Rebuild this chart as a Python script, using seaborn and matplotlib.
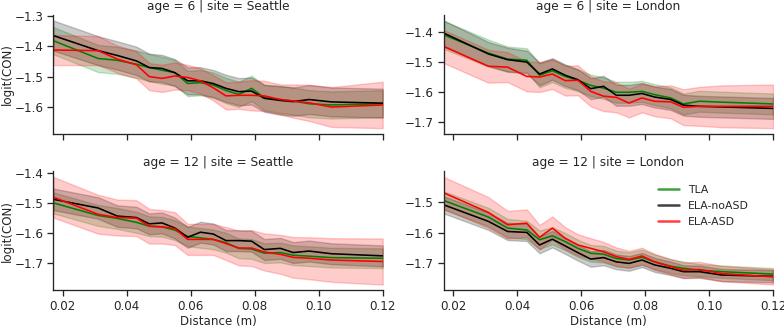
import numpy as np
import pandas as pd
import matplotlib
matplotlib.use("Agg")
import matplotlib.pyplot as plt
import seaborn as sns

# distance bins (m)
distance = [0.017, 0.031, 0.037, 0.043, 0.047, 0.051, 0.055, 0.059, 0.063, 0.067,
            0.071, 0.075, 0.079, 0.083, 0.088, 0.092, 0.097, 0.104, 0.12]

groups = ["TLA", "ELA-noASD", "ELA-ASD"]
ages = [6, 12]
sites = ["Seattle", "London"]

# mean logit(CON) per panel and group
mean_6_seattle_tla = [-1.381, -1.440, -1.446, -1.459, -1.470, -1.479, -1.487, -1.523, -1.520, -1.528,
                      -1.546, -1.559, -1.539, -1.570, -1.576, -1.581, -1.590, -1.594, -1.590]
mean_6_seattle_noasd = [-1.364, -1.414, -1.430, -1.448, -1.470, -1.473, -1.487, -1.514, -1.514, -1.523,
                        -1.539, -1.550, -1.548, -1.572, -1.579, -1.583, -1.576, -1.584, -1.588]
mean_6_seattle_asd = [-1.412, -1.414, -1.442, -1.461, -1.500, -1.506, -1.498, -1.503, -1.514, -1.537,
                      -1.564, -1.562, -1.562, -1.564, -1.576, -1.581, -1.587, -1.601, -1.594]

mean_6_london_tla = [-1.408, -1.469, -1.489, -1.493, -1.543, -1.528, -1.547, -1.560, -1.577, -1.586,
                     -1.600, -1.600, -1.597, -1.608, -1.619, -1.639, -1.630, -1.633, -1.639]
mean_6_london_noasd = [-1.402, -1.472, -1.491, -1.499, -1.539, -1.522, -1.543, -1.558, -1.588, -1.580,
                       -1.610, -1.610, -1.604, -1.616, -1.624, -1.643, -1.647, -1.649, -1.654]
mean_6_london_asd = [-1.447, -1.513, -1.516, -1.547, -1.549, -1.539, -1.561, -1.560, -1.597, -1.613,
                     -1.617, -1.636, -1.619, -1.630, -1.632, -1.650, -1.647, -1.647, -1.647]

mean_12_seattle_tla = [-1.499, -1.541, -1.551, -1.564, -1.577, -1.579, -1.590, -1.611, -1.616, -1.621,
                       -1.632, -1.651, -1.653, -1.667, -1.665, -1.674, -1.677, -1.682, -1.684]
mean_12_seattle_noasd = [-1.487, -1.516, -1.543, -1.548, -1.569, -1.566, -1.583, -1.614, -1.597, -1.603,
                         -1.625, -1.625, -1.627, -1.655, -1.651, -1.665, -1.660, -1.669, -1.676]
mean_12_seattle_asd = [-1.480, -1.537, -1.548, -1.550, -1.577, -1.579, -1.585, -1.621, -1.621, -1.621,
                       -1.635, -1.650, -1.650, -1.663, -1.671, -1.681, -1.684, -1.690, -1.695]

mean_12_london_tla = [-1.495, -1.549, -1.585, -1.591, -1.623, -1.610, -1.629, -1.651, -1.667, -1.670,
                      -1.684, -1.689, -1.680, -1.695, -1.709, -1.716, -1.722, -1.727, -1.735]
mean_12_london_noasd = [-1.509, -1.563, -1.596, -1.599, -1.640, -1.621, -1.643, -1.665, -1.686, -1.681,
                        -1.695, -1.700, -1.689, -1.705, -1.716, -1.727, -1.727, -1.738, -1.742]
mean_12_london_asd = [-1.470, -1.534, -1.574, -1.569, -1.615, -1.585, -1.618, -1.640, -1.651, -1.662,
                      -1.678, -1.687, -1.676, -1.695, -1.711, -1.722, -1.720, -1.733, -1.744]

# half width of the confidence band per panel and group
ci_6_seattle_tla = [0.045, 0.045, 0.045, 0.045, 0.045, 0.045, 0.042, 0.042, 0.042, 0.042,
                    0.042, 0.042, 0.042, 0.042, 0.045, 0.045, 0.045, 0.045, 0.045]
ci_6_seattle_noasd = [0.05, 0.048, 0.047, 0.047, 0.046, 0.045, 0.045, 0.045, 0.045, 0.045,
                      0.045, 0.045, 0.045, 0.045, 0.047, 0.047, 0.048, 0.048, 0.048]
ci_6_seattle_asd = [0.05, 0.048, 0.045, 0.045, 0.045, 0.045, 0.045, 0.042, 0.042, 0.042,
                    0.045, 0.045, 0.05, 0.05, 0.05, 0.055, 0.06, 0.066, 0.077]

ci_6_london_tla = [0.047, 0.045, 0.042, 0.04, 0.04, 0.038, 0.038, 0.036, 0.036, 0.036,
                   0.035, 0.035, 0.035, 0.035, 0.035, 0.035, 0.035, 0.035, 0.035]
ci_6_london_noasd = [0.042, 0.04, 0.04, 0.038, 0.038, 0.036, 0.036, 0.035, 0.035, 0.035,
                     0.035, 0.035, 0.035, 0.035, 0.035, 0.035, 0.035, 0.035, 0.035]
ci_6_london_asd = [0.055, 0.055, 0.05, 0.05, 0.05, 0.05, 0.05, 0.05, 0.05, 0.05,
                   0.05, 0.048, 0.048, 0.05, 0.055, 0.06, 0.065, 0.07, 0.073]

ci_12_seattle_tla = [0.035, 0.035, 0.035, 0.035, 0.033, 0.033, 0.033, 0.033, 0.033, 0.033,
                     0.033, 0.033, 0.033, 0.033, 0.033, 0.033, 0.033, 0.033, 0.033]
ci_12_seattle_noasd = [0.036, 0.036, 0.036, 0.036, 0.035, 0.035, 0.035, 0.035, 0.035, 0.035,
                       0.035, 0.035, 0.035, 0.035, 0.035, 0.035, 0.035, 0.035, 0.035]
ci_12_seattle_asd = [0.068, 0.065, 0.06, 0.06, 0.058, 0.056, 0.055, 0.052, 0.052, 0.052,
                     0.055, 0.058, 0.06, 0.062, 0.065, 0.068, 0.07, 0.073, 0.077]

ci_12_london_tla = [0.03, 0.03, 0.03, 0.03, 0.03, 0.028, 0.028, 0.028, 0.027, 0.027,
                    0.026, 0.025, 0.025, 0.024, 0.023, 0.022, 0.02, 0.02, 0.02]
ci_12_london_noasd = [0.028, 0.028, 0.028, 0.028, 0.027, 0.027, 0.026, 0.026, 0.025, 0.025,
                      0.024, 0.024, 0.023, 0.023, 0.022, 0.021, 0.02, 0.02, 0.02]
ci_12_london_asd = [0.052, 0.05, 0.045, 0.045, 0.04, 0.038, 0.036, 0.035, 0.033, 0.032,
                    0.03, 0.028, 0.027, 0.026, 0.025, 0.025, 0.025, 0.025, 0.025]

means = {
    (6, "Seattle"): [mean_6_seattle_tla, mean_6_seattle_noasd, mean_6_seattle_asd],
    (6, "London"): [mean_6_london_tla, mean_6_london_noasd, mean_6_london_asd],
    (12, "Seattle"): [mean_12_seattle_tla, mean_12_seattle_noasd, mean_12_seattle_asd],
    (12, "London"): [mean_12_london_tla, mean_12_london_noasd, mean_12_london_asd],
}
cis = {
    (6, "Seattle"): [ci_6_seattle_tla, ci_6_seattle_noasd, ci_6_seattle_asd],
    (6, "London"): [ci_6_london_tla, ci_6_london_noasd, ci_6_london_asd],
    (12, "Seattle"): [ci_12_seattle_tla, ci_12_seattle_noasd, ci_12_seattle_asd],
    (12, "London"): [ci_12_london_tla, ci_12_london_noasd, ci_12_london_asd],
}

# long table: lower edge, centre and upper edge of the band for each bin
rows = []
for (age, site), panel in means.items():
    for g, m, hw in zip(groups, panel, cis[(age, site)]):
        for d, mv, h in zip(distance, m, hw):
            for v in (mv - h, mv, mv + h):
                rows.append({"Distance (m)": d, "logit(CON)": v, "group": g,
                             "age": age, "site": site})
df = pd.DataFrame(rows)

sns.set_theme(style="ticks")
plt.rcParams.update({
    "font.size": 8.6,
    "axes.labelsize": 8.6,
    "axes.titlesize": 8.7,
    "xtick.labelsize": 8.6,
    "ytick.labelsize": 8.6,
    "axes.linewidth": 0.95,
    "xtick.major.width": 0.95,
    "ytick.major.width": 0.95,
    "xtick.major.size": 4.5,
    "ytick.major.size": 4.5,
    "xtick.major.pad": 2.7,
    "ytick.major.pad": 2.7,
})

palette = {"TLA": "green", "ELA-noASD": "black", "ELA-ASD": "red"}

g = sns.relplot(data=df, x="Distance (m)", y="logit(CON)", hue="group",
                hue_order=groups, palette=palette, kind="line",
                row="age", col="site", row_order=ages, col_order=sites,
                estimator="mean", errorbar=("pi", 100), linewidth=1.15,
                facet_kws=dict(sharey=False, sharex=True), legend=False)

g.set(xlim=(distance[0], distance[-1]))
g.set(xticks=[0.02, 0.04, 0.06, 0.08, 0.10, 0.12])
for ax in g.axes.flat:
    ax.xaxis.set_major_formatter(matplotlib.ticker.FormatStrFormatter("%.2f"))
    ax.set_title(ax.get_title(), pad=4)
for ax in g.axes[:, 0]:
    ax.set_ylabel("logit(CON)", labelpad=0.5)
for ax in g.axes[1, :]:
    ax.set_xlabel("Distance (m)", labelpad=1.5)

g.figure.set_size_inches(7.84, 3.28)
g.figure.subplots_adjust(left=0.068, right=0.986, top=0.954, bottom=0.116,
                         wspace=0.185, hspace=0.32)

# legend inside the last panel
handles = [matplotlib.lines.Line2D([], [], color=palette[k], lw=1.8, alpha=0.75)
           for k in groups]
g.axes[1, 1].legend(handles, groups, loc="upper right", frameon=False,
                    fontsize=7.8, bbox_to_anchor=(0.955, 0.97),
                    handlelength=1.9, labelspacing=0.55)

g.figure.savefig("out.png", dpi=100)
